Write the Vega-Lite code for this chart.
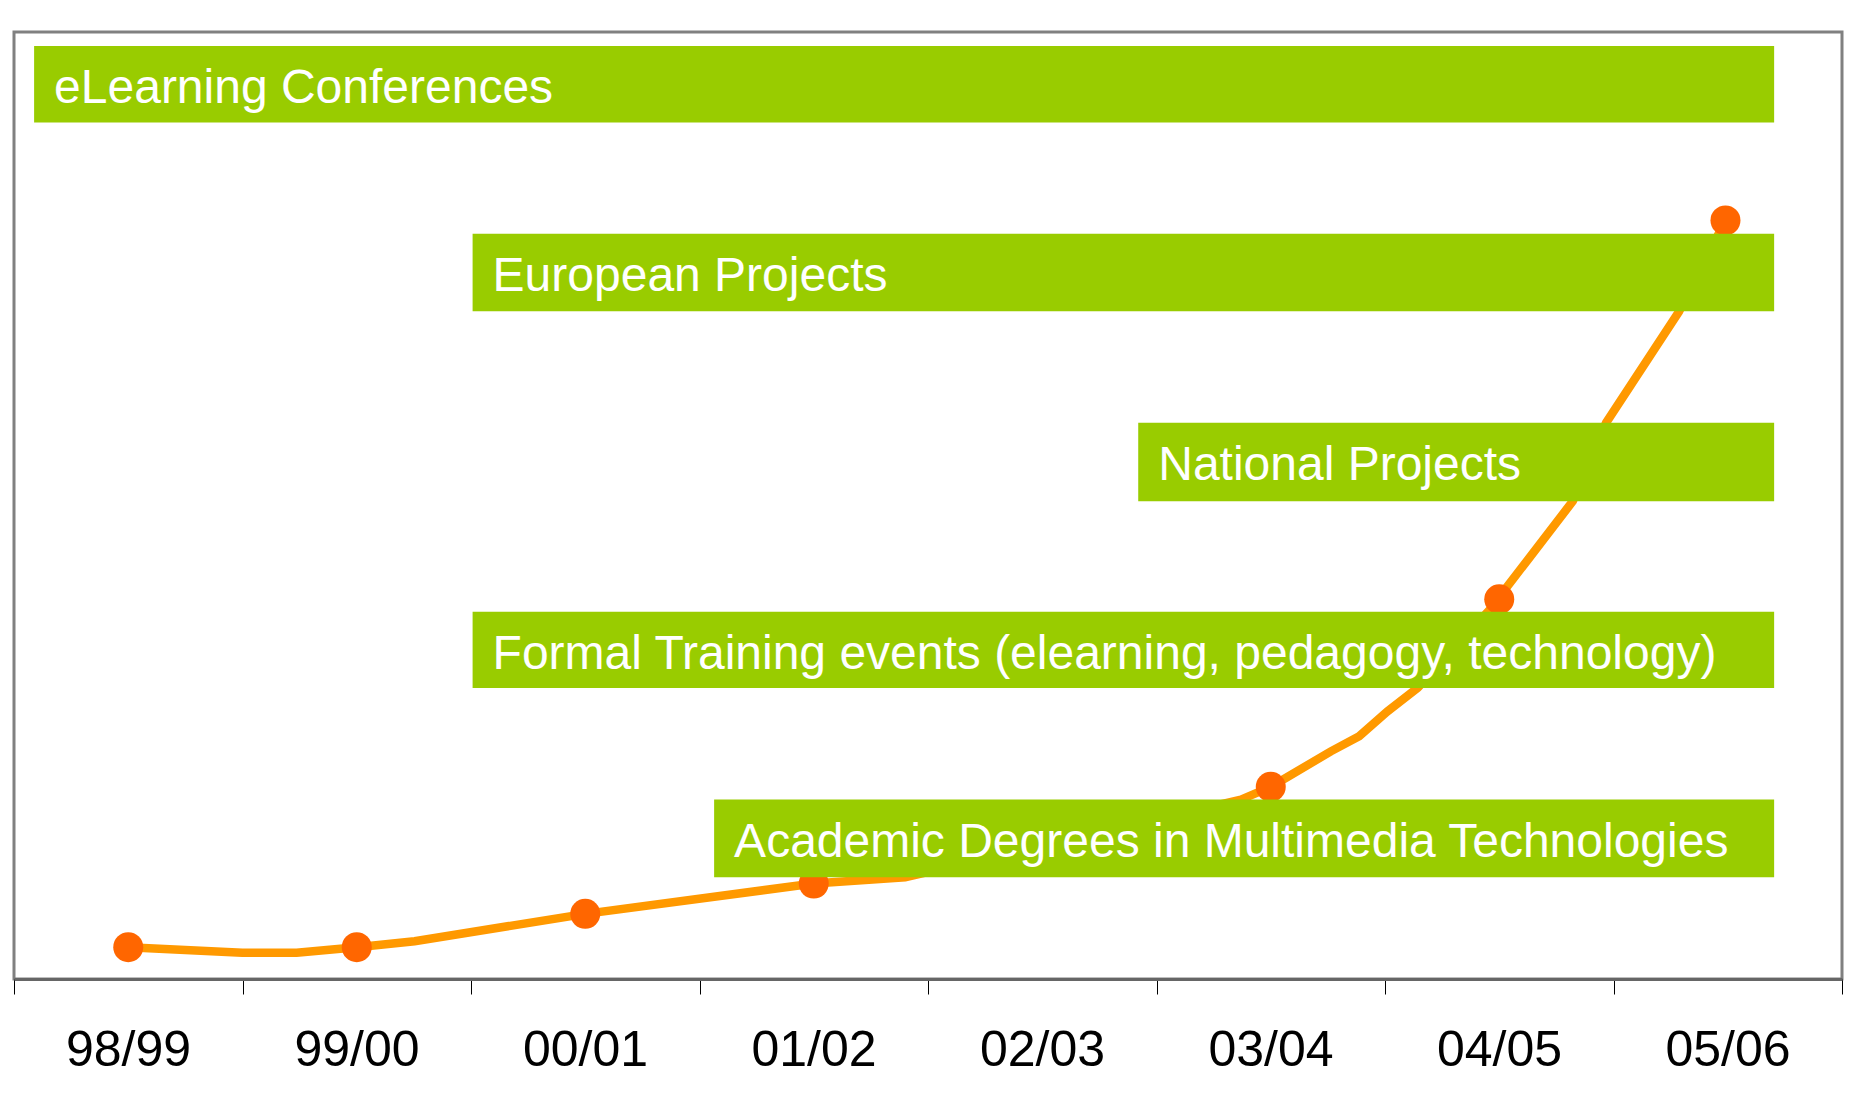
{
  "$schema": "https://vega.github.io/schema/vega-lite/v6.json",
  "width": 1828,
  "height": 947,
  "padding": {"left": 13, "top": 32, "right": 0, "bottom": 0},
  "autosize": {"type": "pad"},
  "background": "white",
  "config": {
    "view": {"stroke": "#808080", "strokeWidth": 3},
    "font": "Liberation Sans"
  },
  "datasets": {
    "curve": [
      {"x": 0.5, "v": 3.36},
      {"x": 0.999, "v": 2.77},
      {"x": 1.237, "v": 2.77},
      {"x": 1.5, "v": 3.36},
      {"x": 1.753, "v": 3.99},
      {"x": 2.5, "v": 6.88},
      {"x": 3.5, "v": 10.08},
      {"x": 3.9, "v": 10.75},
      {"x": 4.5, "v": 14.09},
      {"x": 5.37, "v": 18.95},
      {"x": 5.5, "v": 20.29},
      {"x": 5.763, "v": 24.04},
      {"x": 5.887, "v": 25.63},
      {"x": 6.011, "v": 28.27},
      {"x": 6.143, "v": 30.74},
      {"x": 6.5, "v": 40.1},
      {"x": 6.522, "v": 41.04},
      {"x": 6.624, "v": 44.24},
      {"x": 6.822, "v": 50.46},
      {"x": 6.968, "v": 58.75},
      {"x": 7.286, "v": 70.44},
      {"x": 7.49, "v": 80.1}
    ],
    "years": [
      {"year": "98/99", "x": 0.5, "v": 3.36},
      {"year": "99/00", "x": 1.5, "v": 3.36},
      {"year": "00/01", "x": 2.5, "v": 6.88},
      {"year": "01/02", "x": 3.5, "v": 10.08},
      {"year": "02/03", "x": 4.5, "v": 14.09},
      {"year": "03/04", "x": 5.5, "v": 20.29},
      {"year": "04/05", "x": 6.5, "v": 40.1},
      {"year": "05/06", "x": 7.49, "v": 80.1}
    ],
    "bars": [
      {"label": "eLearning Conferences", "x0": 0.088, "x1": 7.703, "y0": 90.44, "y1": 98.53},
      {"label": "European Projects", "x0": 2.007, "x1": 7.703, "y0": 70.5, "y1": 78.69},
      {"label": "National Projects", "x0": 4.92, "x1": 7.703, "y0": 50.46, "y1": 58.75},
      {"label": "Formal Training events (elearning, pedagogy, technology)", "x0": 2.007, "x1": 7.703, "y0": 30.74, "y1": 38.78},
      {"label": "Academic Degrees in Multimedia Technologies", "x0": 3.064, "x1": 7.703, "y0": 10.75, "y1": 18.95}
    ]
  },
  "layer": [
    {
      "data": {"name": "curve"},
      "mark": {"type": "line", "color": "#FF9900", "strokeWidth": 8.5},
      "encoding": {
        "x": {
          "field": "x", "type": "quantitative",
          "scale": {"domain": [0, 8], "nice": false, "zero": false},
          "axis": {
            "title": null,
            "grid": false,
            "values": [0, 1, 2, 3, 4, 5, 6, 7, 8],
            "labelExpr": "datum.value < 8 ? ['98/99','99/00','00/01','01/02','02/03','03/04','04/05','05/06'][datum.value] : ''",
            "labelOffset": 114,
            "labelFontSize": 50,
            "labelFont": "Liberation Sans",
            "labelColor": "#000000",
            "labelPadding": 31,
            "labelFlush": false,
            "labelOverlap": false,
            "labelBound": false,
            "tickSize": 15,
            "tickColor": "#000000",
            "tickWidth": 1,
            "domainColor": "#666666",
            "domainWidth": 3
          }
        },
        "y": {
          "field": "v", "type": "quantitative",
          "scale": {"domain": [0, 100], "nice": false, "zero": false},
          "axis": null
        }
      }
    },
    {
      "data": {"name": "years"},
      "mark": {"type": "circle", "color": "#FF6600", "opacity": 1, "size": 900},
      "encoding": {
        "x": {"field": "x", "type": "quantitative"},
        "y": {"field": "v", "type": "quantitative"}
      }
    },
    {
      "data": {"name": "bars"},
      "mark": {"type": "rect", "color": "#99CC00"},
      "encoding": {
        "x": {"field": "x0", "type": "quantitative"},
        "x2": {"field": "x1"},
        "y": {"field": "y0", "type": "quantitative"},
        "y2": {"field": "y1"}
      }
    },
    {
      "data": {"name": "bars"},
      "mark": {"type": "text", "color": "#FFFFFF", "fontSize": 48, "font": "Liberation Sans", "align": "left", "baseline": "alphabetic", "dx": 20, "dy": 57},
      "encoding": {
        "x": {"field": "x0", "type": "quantitative"},
        "y": {"field": "y1", "type": "quantitative"},
        "text": {"field": "label"}
      }
    }
  ]
}
